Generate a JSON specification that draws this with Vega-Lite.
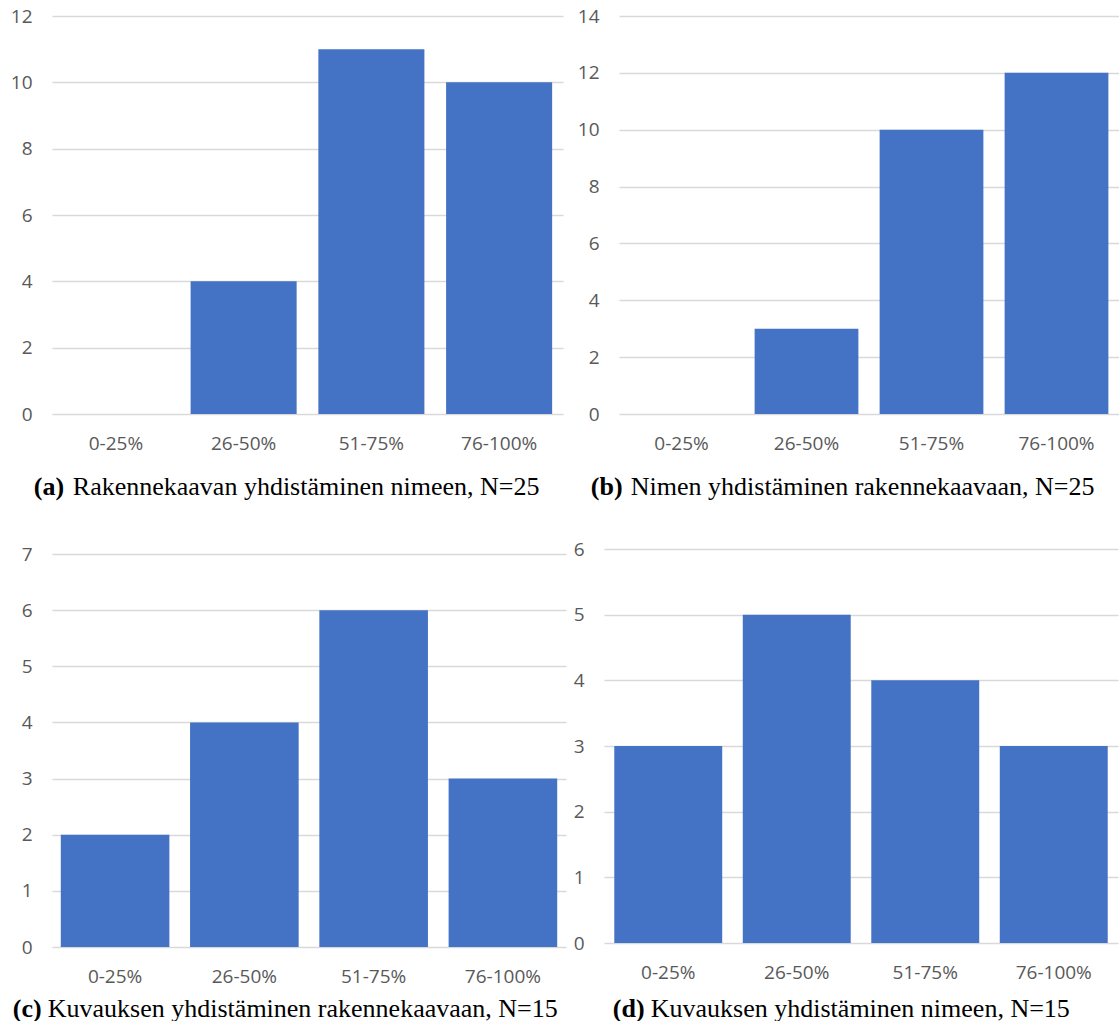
{
  "$schema": "https://vega.github.io/schema/vega-lite/v6.json",
  "padding": {"left": 10, "top": 7, "right": 0, "bottom": 0},
  "background": "white",
  "datasets": {
    "a": [{"range": "0-25%", "count": 0}, {"range": "26-50%", "count": 4}, {"range": "51-75%", "count": 11}, {"range": "76-100%", "count": 10}],
    "b": [{"range": "0-25%", "count": 0}, {"range": "26-50%", "count": 3}, {"range": "51-75%", "count": 10}, {"range": "76-100%", "count": 12}],
    "c": [{"range": "0-25%", "count": 2}, {"range": "26-50%", "count": 4}, {"range": "51-75%", "count": 6}, {"range": "76-100%", "count": 3}],
    "d": [{"range": "0-25%", "count": 3}, {"range": "26-50%", "count": 5}, {"range": "51-75%", "count": 4}, {"range": "76-100%", "count": 3}]
  },
  "config": {
    "view": {"stroke": null},
    "concat": {"spacing": 14},
    "axis": {
      "labelFont": "Open Sans",
      "labelFontSize": 19,
      "labelColor": "#595959",
      "domain": false,
      "ticks": false,
      "tickSize": 0,
      "gridColor": "#D9D9D9",
      "gridWidth": 1.3,
      "titleFont": "Liberation Serif",
      "titleFontSize": 26,
      "titleColor": "#000000",
      "titleAlign": "left",
      "titleBaseline": "alphabetic",
      "titleAngle": 0
    },
    "axisX": {"labelAngle": 0, "labelPadding": 20, "grid": false, "titleFontWeight": "normal"},
    "axisY": {"labelPadding": 20, "grid": true, "titleFontWeight": "bold"}
  },
  "vconcat": [
    {
      "hconcat": [
        {
          "data": {"name": "a"},
          "width": 511,
          "height": 398,
          "mark": {"type": "bar", "color": "#4472C4"},
          "encoding": {
            "x": {"field": "range", "type": "nominal", "sort": ["0-25%", "26-50%", "51-75%", "76-100%"],
              "scale": {"paddingInner": 0.17, "paddingOuter": 0.085},
              "axis": {"title": "Rakennekaavan yhdistäminen nimeen, N=25", "titleX": 20.3, "titleY": 80}},
            "y": {"field": "count", "type": "quantitative", "scale": {"domain": [0, 12], "nice": false},
              "axis": {"values": [0, 2, 4, 6, 8, 10, 12], "title": "(a)", "titleX": -18.7, "titleY": 478}}
          }
        },
        {
          "data": {"name": "b"},
          "width": 500,
          "height": 398,
          "mark": {"type": "bar", "color": "#4472C4"},
          "encoding": {
            "x": {"field": "range", "type": "nominal", "sort": ["0-25%", "26-50%", "51-75%", "76-100%"],
              "scale": {"paddingInner": 0.17, "paddingOuter": 0.085},
              "axis": {"title": "Nimen yhdistäminen rakennekaavaan, N=25", "titleX": 11.3, "titleY": 80}},
            "y": {"field": "count", "type": "quantitative", "scale": {"domain": [0, 14], "nice": false},
              "axis": {"values": [0, 2, 4, 6, 8, 10, 12, 14], "title": "(b)", "titleX": -28.7, "titleY": 478}}
          }
        }
      ]
    },
    {
      "spacing": 7,
      "hconcat": [
        {
          "data": {"name": "c"},
          "width": 514,
          "height": 398,
          "mark": {"type": "bar", "color": "#4472C4"},
          "encoding": {
            "x": {"field": "range", "type": "nominal", "sort": ["0-25%", "26-50%", "51-75%", "76-100%"],
              "scale": {"paddingInner": 0.16, "paddingOuter": 0.068},
              "axis": {"title": "Kuvauksen yhdistäminen rakennekaavaan, N=15", "titleX": -4.7, "titleY": 69}},
            "y": {"field": "count", "type": "quantitative", "scale": {"domain": [0, 7.09], "nice": false},
              "axis": {"values": [0, 1, 2, 3, 4, 5, 6, 7], "title": "(c)", "titleX": -39.7, "titleY": 467}}
          }
        },
        {
          "data": {"name": "d"},
          "width": 514,
          "height": 394,
          "mark": {"type": "bar", "color": "#4472C4"},
          "encoding": {
            "x": {"field": "range", "type": "nominal", "sort": ["0-25%", "26-50%", "51-75%", "76-100%"],
              "scale": {"paddingInner": 0.16, "paddingOuter": 0.08},
              "axis": {"title": "Kuvauksen yhdistäminen nimeen, N=15", "titleX": 46.3, "titleY": 73}},
            "y": {"field": "count", "type": "quantitative", "scale": {"domain": [0, 6], "nice": false},
              "axis": {"values": [0, 1, 2, 3, 4, 5, 6], "title": "(d)", "titleX": 8.3, "titleY": 467}}
          }
        }
      ]
    }
  ],
  "spacing": 41
}
